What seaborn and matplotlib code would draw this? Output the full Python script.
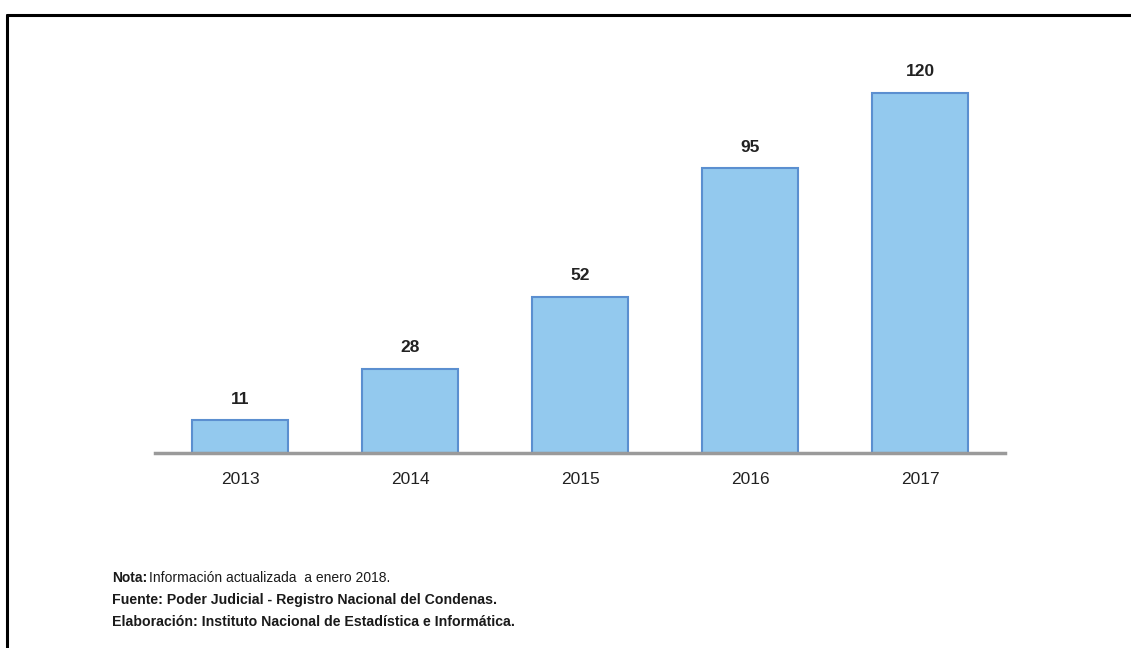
import matplotlib
matplotlib.use("Agg")
import matplotlib.pyplot as plt
from matplotlib.lines import Line2D
from matplotlib import font_manager
import seaborn as sns
import pandas as pd

years = ["2013", "2014", "2015", "2016", "2017"]
values = [11, 28, 52, 95, 120]

sns.set_theme(style="white")
names = {f.name for f in font_manager.fontManager.ttflist}
narrow = "Liberation Sans Narrow" if "Liberation Sans Narrow" in names else "Liberation Sans"
plt.rcParams["font.family"] = [narrow, "DejaVu Sans"]

fig = plt.figure(figsize=(11.31, 6.48), dpi=100)
ax = fig.add_axes([155 / 1131, 1 - 453 / 648, 850 / 1131, 390 / 648])

df = pd.DataFrame({"year": years, "value": values})
sns.barplot(data=df, x="year", y="value", ax=ax, color="#93C9EE",
            edgecolor="#5B8FD0", linewidth=1.5, width=0.56, saturation=1)

for i, v in enumerate(values):
    ax.text(i, v + 7, str(v), ha="center", va="center",
            fontsize=12.5, fontweight="bold", color="#222222")

ax.set_xlim(-0.5, 4.5)
ax.set_ylim(0, 130)
ax.set_xlabel("")
ax.set_ylabel("")
ax.set_yticks([])
for s in ["left", "right", "top"]:
    ax.spines[s].set_visible(False)
ax.spines["bottom"].set_color("#9a9a9a")
ax.spines["bottom"].set_linewidth(2.5)
ax.tick_params(axis="x", length=0, pad=14, labelsize=12.5, labelcolor="#222222")

# outer frame (left and top edges)
fig.add_artist(Line2D([7 / 1131, 7 / 1131], [0, 1 - 15 / 648], transform=fig.transFigure,
                      color="black", linewidth=2.2))
fig.add_artist(Line2D([7 / 1131, 1.0], [1 - 15 / 648, 1 - 15 / 648], transform=fig.transFigure,
                      color="black", linewidth=2.2))

fx = 112 / 1131
fig.text(fx, 1 - 578 / 648, "Nota:", fontsize=10, fontweight="bold", color="#1a1a1a", va="center")
fig.text(fx + 37 / 1131, 1 - 578 / 648, "Información actualizada  a enero 2018.", fontsize=10,
         color="#1a1a1a", va="center")
fig.text(fx, 1 - 600 / 648, "Fuente: Poder Judicial - Registro Nacional del Condenas.",
         fontsize=10.2, fontweight="bold", color="#1a1a1a", va="center")
fig.text(fx, 1 - 622 / 648, "Elaboración: Instituto Nacional de Estadística e Informática.",
         fontsize=10.2, fontweight="bold", color="#1a1a1a", va="center")

fig.savefig("out.png", dpi=100, facecolor="white")
